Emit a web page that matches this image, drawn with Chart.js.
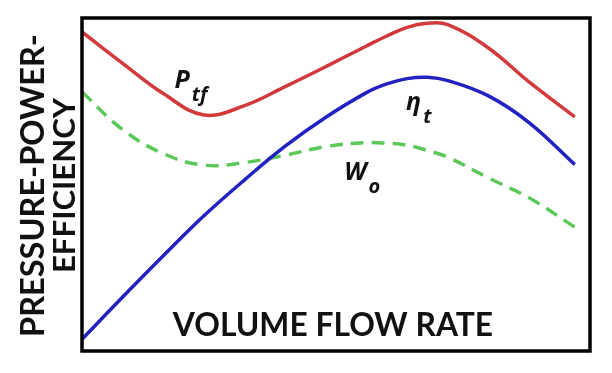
<!DOCTYPE html>
<html lang="en">
<head>
    <meta charset="UTF-8">
    <title>Fan Performance Curves</title>
    <script src="https://cdn.jsdelivr.net/npm/chart.js"></script>
    <style>
        body {
            margin: 0;
            background: #ffffff;
        }
        #fanChart {
            display: block;
        }
    </style>
</head>
<body>
    <canvas id="fanChart" width="612" height="373"></canvas>

    <script>
        // volume flow rate (relative units, 0-100)
        const flowRate = [0, 8, 16, 24, 32, 40, 48, 56, 60, 64, 68, 72, 80, 88, 97];
        // total pressure P_tf
        const pressure = [95.8, 86.4, 77.3, 70.9, 73.7, 79.4, 85.4, 91.6, 94.6, 97.2, 98.4, 98, 91, 80.8, 70.3];
        // efficiency eta_t
        const efficiency = [3.5, 16.2, 28.6, 40.6, 51.4, 61.5, 70.2, 77.6, 80.2, 81.8, 82.2, 81.2, 76.6, 68.6, 56];
        // power W_o
        const power = [77.8, 66.5, 59.3, 55.8, 56.6, 58.8, 61.4, 62.6, 62.4, 61.8, 60.2, 58.2, 52, 46, 37.2];

        const yTitle = ['PRESSURE-POWER-', 'EFFICIENCY'];
        const xTitle = 'VOLUME FLOW RATE';

        const toPoints = (ys) => flowRate.map((x, i) => ({ x: x, y: ys[i] }));

        // curve labels: [main, subscript, x, y] in data units
        const curveLabels = [
            ['P', 'tf', 18.2, 79],
            ['\u03B7', 't', 63.8, 72.5],
            ['W', 'o', 51.6, 51.5]
        ];

        function fitFont(ctx, text, weight, family, width) {
            ctx.font = weight + ' 100px ' + family;
            const w = ctx.measureText(text).width;
            return weight + ' ' + (100 * width / w).toFixed(1) + 'px ' + family;
        }

        const framePlugin = {
            id: 'frame',
            afterDraw(chart) {
                const ctx = chart.ctx;
                const a = chart.chartArea;
                const xs = chart.scales.x;
                const ys = chart.scales.y;
                ctx.save();

                // box around plot
                ctx.strokeStyle = '#000';
                ctx.lineWidth = 3.5;
                ctx.strokeRect(a.left, a.top, a.right - a.left, a.bottom - a.top);

                ctx.fillStyle = '#111';
                // x title inside the plot
                ctx.font = fitFont(ctx, xTitle, '700', 'Lato', 320);
                ctx.textAlign = 'center';
                ctx.textBaseline = 'alphabetic';
                ctx.fillText(xTitle, 333, 336);

                // y title, two rotated lines
                ctx.save();
                ctx.rotate(-Math.PI / 2);
                ctx.font = fitFont(ctx, yTitle[0], '700', 'Lato', 303);
                ctx.fillText(yTitle[0], -185.5, 44);
                ctx.font = fitFont(ctx, yTitle[1], '700', 'Lato', 175);
                ctx.fillText(yTitle[1], -185.5, 75);
                ctx.restore();

                // curve labels
                ctx.textAlign = 'left';
                curveLabels.forEach(([main, sub, x, y]) => {
                    const px = xs.getPixelForValue(x);
                    const py = ys.getPixelForValue(y);
                    ctx.font = 'italic 700 25px "Open Sans"';
                    ctx.fillText(main, px, py);
                    const w = ctx.measureText(main).width;
                    ctx.font = 'italic 700 20px "Open Sans"';
                    ctx.fillText(sub, px + w + 2, py + 13);
                });
                ctx.restore();
            }
        };

        const lineStyle = {
            showLine: true,
            pointRadius: 0,
            borderWidth: 3.5,
            tension: 0.4,
            fill: false
        };

        const config = {
            type: 'scatter',
            data: {
                datasets: [
                    Object.assign({ label: 'P_tf', data: toPoints(pressure), borderColor: '#d2393a' }, lineStyle),
                    Object.assign({ label: 'eta_t', data: toPoints(efficiency), borderColor: '#2222c4' }, lineStyle),
                    Object.assign({ label: 'W_o', data: toPoints(power), borderColor: '#5cc85a', borderDash: [13, 8] }, lineStyle)
                ]
            },
            options: {
                responsive: false,
                animation: false,
                layout: {
                    padding: { left: 82, top: 18, right: 22, bottom: 22 }
                },
                plugins: {
                    legend: { display: false },
                    tooltip: { enabled: false }
                },
                scales: {
                    x: { type: 'linear', min: 0, max: 100, display: false },
                    y: { type: 'linear', min: 0, max: 100, display: false }
                }
            },
            plugins: [framePlugin]
        };

        const ctx = document.getElementById('fanChart').getContext('2d');
        const fanChart = new Chart(ctx, config);
    </script>
</body>
</html>
